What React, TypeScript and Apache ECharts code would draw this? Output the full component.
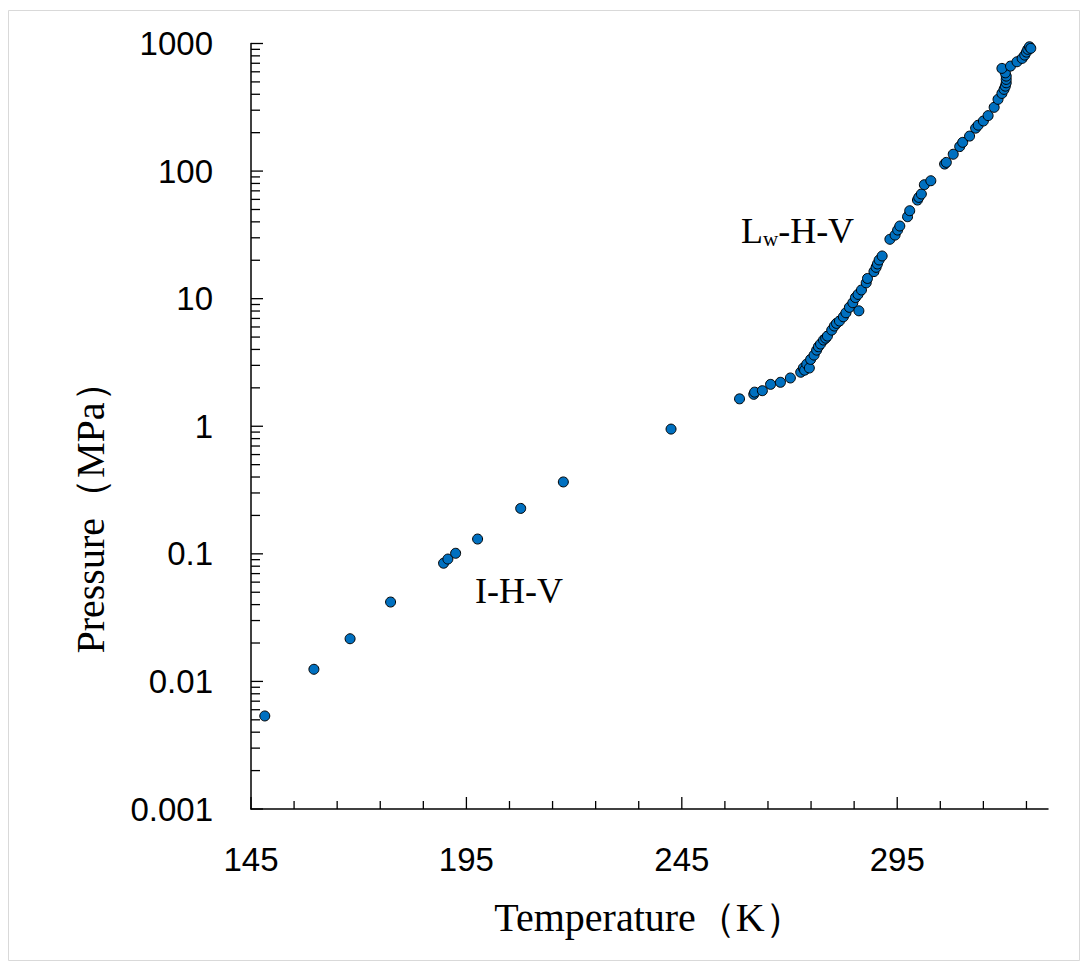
import React, { useEffect, useRef } from "react";
import * as echarts from "echarts";

// I-H-V branch (Temperature K, Pressure MPa)
const ihvTemp = [148.2, 159.6, 168.0, 177.4, 189.7, 190.7, 192.5, 197.6, 207.6, 217.5, 242.5];
const ihvPress = [0.00536, 0.01245, 0.0216, 0.0419, 0.0844, 0.091, 0.101, 0.1306, 0.227, 0.366, 0.95];

// Lw-H-V branch
const lhvTemp = [
  258.4, 261.7, 261.9, 263.7, 265.6, 267.9, 270.2, 272.6, 273.2, 273.5, 274.0, 274.6, 274.9, 275.7,
  276.3, 276.7, 277.2, 277.9, 278.4, 278.8, 279.8, 280.4, 280.9, 281.6, 282.5, 283.1, 283.9, 284.7,
  285.3, 285.9, 286.1, 286.7, 287.8, 288.1, 289.6, 290.1, 290.4, 290.8, 291.5, 293.3, 294.5, 295.1,
  295.6, 297.4, 297.9, 299.7, 300.0, 300.6, 301.3, 302.8, 306.0, 306.4, 308.0, 309.5, 310.2, 311.8,
  313.2, 313.8, 315.0, 316.1, 317.5, 318.4, 319.3, 319.8, 320.1, 320.3, 320.3, 320.3, 320.1, 319.3,
  321.3, 322.8, 324.0, 324.6, 325.0, 325.3, 325.7, 326.0, 326.1, 326.3,
];
const lhvPress = [
  1.64, 1.78, 1.85, 1.9, 2.13, 2.21, 2.39, 2.65, 2.86, 2.75, 3.07, 2.86, 3.34, 3.61,
  3.95, 4.2, 4.41, 4.74, 4.9, 5.09, 5.67, 6.1, 6.4, 6.68, 7.21, 7.75, 8.55, 9.29,
  10.2, 10.8, 8.03, 11.7, 13.3, 14.4, 16.3, 17.6, 18.7, 20.1, 21.6, 29.2, 31.5, 34.5,
  37.1, 43.9, 48.9, 59.3, 62.2, 66.1, 78.2, 84.0, 113.5, 117, 135.5, 155.6, 168, 188,
  217, 229, 247, 272, 316, 365, 406, 437, 463, 492, 523, 555, 589, 638,
  665, 719, 764, 811, 856, 900, 943, 916, 1012, 1050,
];

// Axis ranges and ticks
const xMin = 145;
const xMax = 330;
const xMajorTicks = [145, 195, 245, 295];
const xMinorTicks = [155, 165, 175, 185, 205, 215, 225, 235, 255, 265, 275, 285, 305, 315, 325];
const yMin = 0.001;
const yMax = 1000;
const yDecades = [0.001, 0.01, 0.1, 1, 10, 100, 1000];
const yMantissas = [2, 3, 4, 5, 6, 7, 8, 9];

const xTitle = "Temperature（K）";
const yTitle = "Pressure（MPa）";

export default function App() {
  const ref = useRef<HTMLDivElement>(null);

  useEffect(() => {
    if (!ref.current) return;
    const chart = echarts.init(ref.current, undefined, { renderer: "svg" });

    const yMinor: number[] = [];
    yDecades.slice(0, -1).forEach((d) => yMantissas.forEach((m) => yMinor.push(d * m)));
    const yTickData = [
      ...yDecades.map((v) => [xMin, v, 1]),
      ...yMinor.map((v) => [xMin, v, 0]),
    ];
    const xTickData = [
      ...xMajorTicks.map((v) => [v, yMin, 1]),
      ...xMinorTicks.map((v) => [v, yMin, 0]),
    ];

    const pointStyle = { color: "#0070C0", borderColor: "#000000", borderWidth: 1, opacity: 1 };
    const labelFont = "Liberation Sans";
    const serif = "'Liberation Serif', 'Times New Roman', serif";

    chart.setOption({
      animation: false,
      backgroundColor: "#ffffff",
      grid: { left: 251, right: 40, top: 43.5, bottom: 162, containLabel: false, outerBoundsMode: "none" },
      xAxis: {
        type: "value",
        min: xMin,
        max: xMax,
        interval: 50,
        name: xTitle,
        nameLocation: "middle",
        nameGap: 88,
        nameTextStyle: { fontFamily: serif, fontSize: 40, color: "#000" },
        axisLine: { show: true, onZero: false, lineStyle: { color: "#000", width: 1.5 } },
        axisTick: { show: false },
        splitLine: { show: false },
        axisLabel: {
          showMaxLabel: false,
          margin: 34,
          fontFamily: labelFont,
          fontSize: 33,
          color: "#000",
        },
      },
      yAxis: {
        type: "log",
        logBase: 10,
        min: yMin,
        max: yMax,
        interval: 1,
        axisLine: { show: true, onZero: false, lineStyle: { color: "#000", width: 1.5 } },
        axisTick: { show: false },
        splitLine: { show: false },
        axisLabel: {
          margin: 38,
          fontFamily: labelFont,
          fontSize: 33,
          color: "#000",
          formatter: (v: number) => String(Number(v.toPrecision(6))),
        },
      },
      graphic: [
        {
          type: "rect",
          shape: { x: 8.5, y: 10.5, width: 1071, height: 950 },
          style: { fill: "none", stroke: "#d9d9d9", lineWidth: 1 },
          silent: true,
          z: -10,
        },
        {
          type: "text",
          x: 90,
          y: 508,
          rotation: Math.PI / 2,
          style: {
            text: yTitle,
            fontFamily: serif,
            fontSize: 40,
            fill: "#000",
            textAlign: "center",
            textVerticalAlign: "middle",
          },
        },
        {
          type: "text",
          x: 741,
          y: 231,
          style: {
            text: "{a|L}{b|w}{a|-H-V}",
            textAlign: "left",
            textVerticalAlign: "middle",
            rich: {
              a: { fontFamily: serif, fontSize: 36, fill: "#000", color: "#000" },
              b: { fontFamily: serif, fontSize: 21, fill: "#000", color: "#000", verticalAlign: "bottom" },
            },
          },
        },
        {
          type: "text",
          x: 475,
          y: 591,
          style: {
            text: "I-H-V",
            fontFamily: serif,
            fontSize: 36,
            fill: "#000",
            textAlign: "left",
            textVerticalAlign: "middle",
          },
        },
      ],
      series: [
        {
          name: "I-H-V",
          type: "scatter",
          symbol: "circle",
          symbolSize: 10,
          itemStyle: pointStyle,
          data: ihvTemp.map((t, i) => [t, ihvPress[i]]),
          z: 5,
        },
        {
          name: "Lw-H-V",
          type: "scatter",
          symbol: "circle",
          symbolSize: 10,
          itemStyle: pointStyle,
          data: lhvTemp.map((t, i) => [t, lhvPress[i]]),
          z: 5,
        },
        {
          type: "custom",
          coordinateSystem: "cartesian2d",
          silent: true,
          clip: false,
          encode: { x: 0, y: 1 },
          data: yTickData,
          renderItem: (_p: any, api: any) => {
            const pt = api.coord([api.value(0), api.value(1)]);
            const len = api.value(2) ? 12 : 9;
            return {
              type: "line",
              shape: { x1: pt[0], y1: pt[1], x2: pt[0] + len, y2: pt[1] },
              style: { stroke: "#000", lineWidth: 1.3 },
            };
          },
          z: 4,
        },
        {
          type: "custom",
          coordinateSystem: "cartesian2d",
          silent: true,
          clip: false,
          encode: { x: 0, y: 1 },
          data: xTickData,
          renderItem: (_p: any, api: any) => {
            const pt = api.coord([api.value(0), api.value(1)]);
            const len = api.value(2) ? 12 : 8;
            return {
              type: "line",
              shape: { x1: pt[0], y1: pt[1], x2: pt[0], y2: pt[1] - len },
              style: { stroke: "#000", lineWidth: 1.3 },
            };
          },
          z: 4,
        },
      ],
    });

    return () => chart.dispose();
  }, []);

  return (
    <div
      ref={ref}
      style={{ position: "absolute", left: 0, top: 0, width: 1088, height: 971, background: "#fff" }}
    />
  );
}
